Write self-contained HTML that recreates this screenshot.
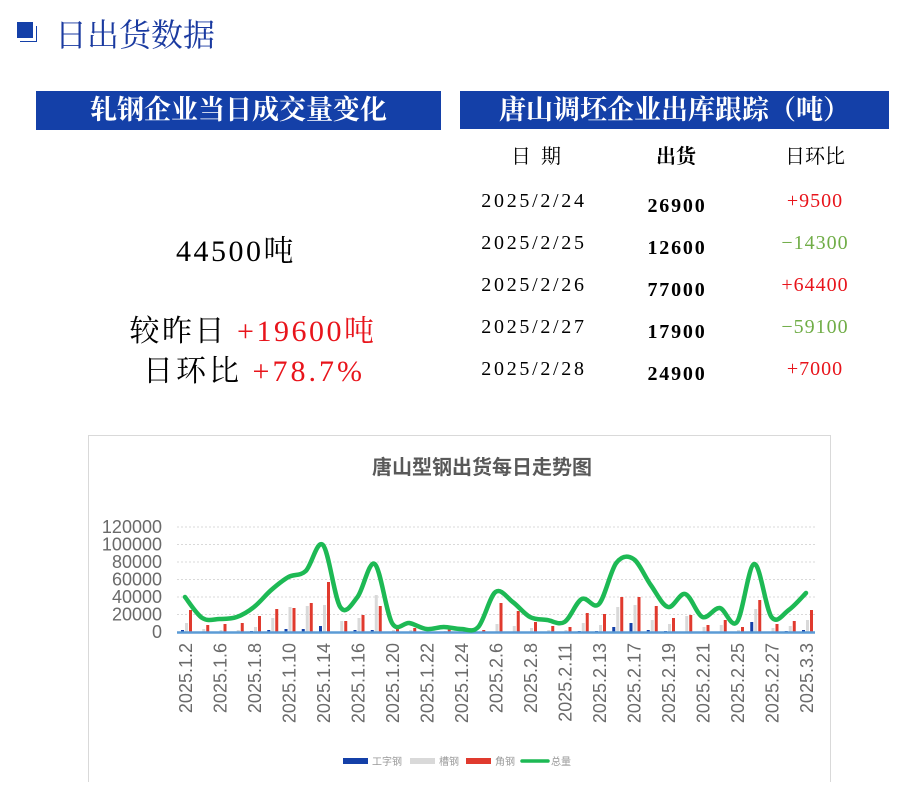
<!DOCTYPE html>
<html><head><meta charset="utf-8"><style>
body{margin:0;width:924px;height:801px;background:#fff;position:relative;overflow:hidden;font-family:"Liberation Serif","Noto Serif CJK SC",serif}
.a{position:absolute;white-space:nowrap}
.bar{position:absolute;background:#1440a8;color:#fff;font-size:27px;font-weight:bold;text-align:center;font-family:"Liberation Serif","Noto Serif CJK SC",serif}
.c{transform:translateX(-50%)}
</style></head><body>
<div class="a" style="left:17px;top:22px;width:16px;height:16px;background:#1440a8"></div>
<div class="a" style="left:20px;top:26px;width:16px;height:15px;border-right:1px solid #1440a8;border-bottom:1px solid #1440a8"></div>
<div class="a" style="left:55px;top:10px;font-size:32px;color:#1a3aa0">日出货数据</div>
<div class="bar" style="left:36px;top:91px;width:405px;height:39px;line-height:39px">轧钢企业当日成交量变化</div>
<div class="bar" style="left:460px;top:91px;width:429px;height:38px;line-height:38px">唐山调坯企业出库跟踪（吨）</div>
<div class="a c" style="left:236px;top:226px;font-size:30px;letter-spacing:2.5px">44500吨</div>
<div class="a c" style="left:253px;top:306px;font-size:30px;letter-spacing:2.5px">较昨日 <span style="color:#e8141b">+19600吨</span></div>
<div class="a c" style="left:254px;top:346px;font-size:30px;letter-spacing:3px">日环比 <span style="color:#e8141b">+78.7%</span></div>
<div class="a c" style="left:536px;top:140px;font-size:20px">日&nbsp;&nbsp;期</div>
<div class="a c" style="left:676px;top:140px;font-size:20px;font-weight:bold">出货</div>
<div class="a c" style="left:815px;top:140px;font-size:20px">日环比</div>
<div id="rows"></div>
<div class="a" style="left:88px;top:435px;width:741px;height:346px;border:1px solid #d9d9d9;border-bottom:none"></div>
<div class="a c" style="left:482px;top:451px;font-size:20px;font-weight:bold;color:#595959;font-family:'Liberation Sans','Noto Sans CJK SC',sans-serif">唐山型钢出货每日走势图</div>
<svg id="ch" class="a" style="left:0;top:0" width="924" height="801"></svg>
<script>
var rows=[["2025/2/24","26900","+9500","#e8141b"],["2025/2/25","12600","−14300","#70ad47"],["2025/2/26","77000","+64400","#e8141b"],["2025/2/27","17900","−59100","#70ad47"],["2025/2/28","24900","+7000","#e8141b"]];
var h="";rows.forEach(function(r,i){var y=190+i*42;
h+='<div class="a c" style="left:534px;top:'+y+'px;font-size:20px;letter-spacing:2.7px">'+r[0]+'</div>';
h+='<div class="a c" style="left:677px;top:'+(y+5)+'px;font-size:20px;font-weight:bold;letter-spacing:1.8px">'+r[1]+'</div>';
h+='<div class="a c" style="left:815px;top:'+y+'px;font-size:20px;letter-spacing:1px;color:'+r[3]+'">'+r[2]+'</div>';});
document.getElementById("rows").innerHTML=h;
var s="";
for(var k=0;k<=6;k++){var y=527+k*17.5;if(k<6)s+='<line x1="177" x2="815" y1="'+y+'" y2="'+y+'" stroke="#d9d9d9" stroke-dasharray="2,2"/>';
s+='<text x="162" y="'+(y+6)+'" font-size="18" fill="#6a6a6a" text-anchor="end" font-family="Liberation Sans,sans-serif">'+(120000-k*20000)+'</text>';}
var g=[597,618,619,617,607,590,577,571,545,607,597,564,623,623,629,627,629,627,592,602,617,620,622,599,604,563,559,585,607,594,617,608,622,564,617,610,593];
var red=[610,625,624,623,616,609,608,603,582,621,615,606,628,628,632,629,632,630,603,611,622,626,627,613,614,597,597,606,618,615,625,620,627,600,624,621,610];
var gry=[623,629,630,630,627,618,607,606,605,621,618,595,630,630,632,631,632,632,624,626,628,630,630,623,625,607,605,620,624,616,627,625,630,609,628,626,620];
var blu=[630,632,632,632,631,630,629,629,626,632,630,630,632,632,632,632,632,632,632,632,632,632,632,631,631,627,623,630,631,632,632,632,632,622,632,631,630];
function X(i){return 185+17.25*i}
for(var i=0;i<37;i++){var x=X(i);
s+='<rect x="'+(x-4)+'" y="'+blu[i]+'" width="3" height="'+(632-blu[i])+'" fill="#1440a8"/>';
s+='<rect x="'+x+'" y="'+gry[i]+'" width="3" height="'+(632-gry[i])+'" fill="#d9d9d9"/>';
s+='<rect x="'+(x+4)+'" y="'+red[i]+'" width="3" height="'+(632-red[i])+'" fill="#e03a2e"/>';}
s+='<line x1="177" x2="815" y1="632.5" y2="632.5" stroke="#5b9bd5" stroke-width="2.5"/>';
var p="M"+X(0)+","+g[0];
for(var i=0;i<36;i++){var p0=i>0?i-1:i,p3=i<35?i+2:i+1;
var c1x=X(i)+(X(i+1)-X(p0))/6,c1y=g[i]+(g[i+1]-g[p0])/6,c2x=X(i+1)-(X(p3)-X(i))/6,c2y=g[i+1]-(g[p3]-g[i])/6;
p+=" C"+c1x+","+c1y+" "+c2x+","+c2y+" "+X(i+1)+","+g[i+1];}
s+='<path d="'+p+'" fill="none" stroke="#1db954" stroke-width="4.5" stroke-linecap="round"/>';
var L=["2025.1.2","2025.1.6","2025.1.8","2025.1.10","2025.1.14","2025.1.16","2025.1.20","2025.1.22","2025.1.24","2025.2.6","2025.2.8","2025.2.11","2025.2.13","2025.2.17","2025.2.19","2025.2.21","2025.2.25","2025.2.27","2025.3.3"];
L.forEach(function(t,j){var x=X(2*j)+7;s+='<text transform="translate('+x+',643) rotate(-90)" font-size="18" fill="#6a6a6a" text-anchor="end" font-family="Liberation Sans,sans-serif">'+t+'</text>';});
var lg=[["#1440a8","工字钢",343],["#d9d9d9","槽钢",410],["#e03a2e","角钢",466]];
lg.forEach(function(l){s+='<rect x="'+l[2]+'" y="758" width="25" height="6" fill="'+l[0]+'"/><text x="'+(l[2]+29)+'" y="765" font-size="10" fill="#999" font-family="Noto Sans CJK SC,sans-serif">'+l[1]+'</text>';});
s+='<line x1="522" x2="548" y1="761" y2="761" stroke="#1db954" stroke-width="3.5" stroke-linecap="round"/><text x="551" y="765" font-size="10" fill="#999" font-family="Noto Sans CJK SC,sans-serif">总量</text>';
document.getElementById("ch").innerHTML=s;
</script>
</body></html>
